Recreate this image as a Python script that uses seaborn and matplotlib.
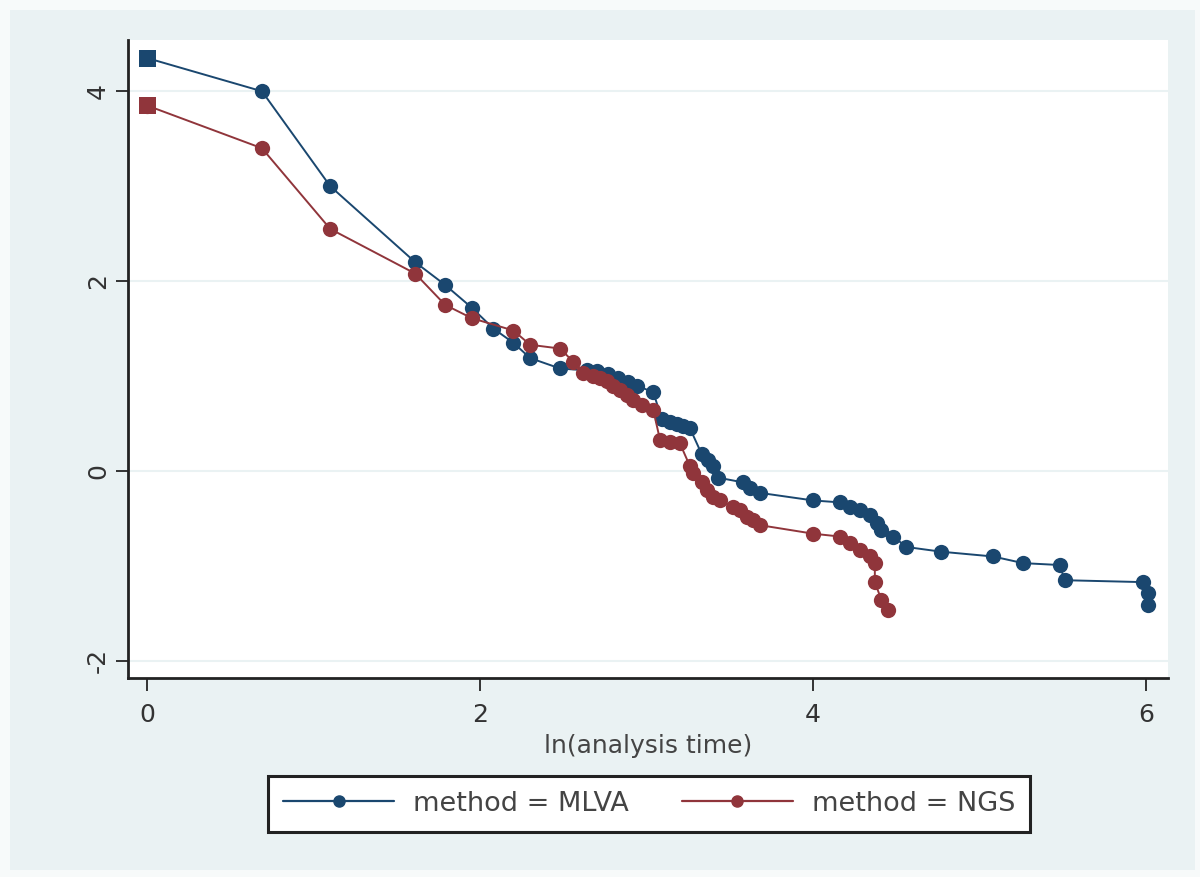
import numpy as np
import pandas as pd
import matplotlib
matplotlib.use("Agg")
import matplotlib.pyplot as plt
from matplotlib.patches import Rectangle
import seaborn as sns

# ln(analysis time) vs -ln(-ln(survival)) per method
mlva_x = [0.00, 0.69, 1.10, 1.61, 1.79, 1.95, 2.08, 2.20, 2.30, 2.48, 2.64, 2.70, 2.77, 2.83,
          2.89, 2.94, 3.04, 3.09, 3.14, 3.18, 3.22, 3.26, 3.33, 3.37, 3.40, 3.43, 3.58, 3.62,
          3.68, 4.00, 4.16, 4.22, 4.28, 4.34, 4.38, 4.41, 4.48, 4.56, 4.77, 5.08, 5.26, 5.48,
          5.51, 5.98, 6.01, 6.01]
mlva_y = [4.35, 4.00, 3.00, 2.20, 1.96, 1.72, 1.50, 1.35, 1.19, 1.08, 1.06, 1.05, 1.02, 0.98,
          0.94, 0.90, 0.83, 0.55, 0.52, 0.50, 0.47, 0.45, 0.18, 0.12, 0.05, -0.07, -0.12, -0.18,
          -0.23, -0.31, -0.33, -0.38, -0.41, -0.46, -0.55, -0.62, -0.69, -0.80, -0.85, -0.90,
          -0.97, -0.99, -1.15, -1.17, -1.28, -1.41]

ngs_x = [0.00, 0.69, 1.10, 1.61, 1.79, 1.95, 2.20, 2.30, 2.48, 2.56, 2.62, 2.68, 2.72, 2.76,
         2.80, 2.84, 2.88, 2.92, 2.97, 3.04, 3.08, 3.14, 3.20, 3.26, 3.28, 3.33, 3.36, 3.40,
         3.44, 3.52, 3.56, 3.60, 3.64, 3.68, 4.00, 4.16, 4.22, 4.28, 4.34, 4.37, 4.37, 4.41, 4.45]
ngs_y = [3.85, 3.40, 2.55, 2.08, 1.75, 1.61, 1.48, 1.33, 1.29, 1.15, 1.03, 1.00, 0.98, 0.95,
         0.90, 0.85, 0.80, 0.75, 0.70, 0.64, 0.33, 0.31, 0.29, 0.05, -0.02, -0.12, -0.20, -0.27,
         -0.31, -0.38, -0.41, -0.48, -0.52, -0.57, -0.66, -0.69, -0.76, -0.83, -0.90, -0.97,
         -1.17, -1.36, -1.46]

labels = ['method = MLVA', 'method = NGS']
colors = ['#1a476f', '#90353b']
x_ticks = [0, 2, 4, 6]
y_ticks = [-2, 0, 2, 4]

df = pd.concat([
    pd.DataFrame({'x': mlva_x, 'y': mlva_y, 'method': labels[0]}),
    pd.DataFrame({'x': ngs_x, 'y': ngs_y, 'method': labels[1]}),
], ignore_index=True)

sns.set_theme(style='white')
plt.rcParams['font.family'] = ['DejaVu Sans']

bg = '#eaf2f3'
fig = plt.figure(figsize=(12, 8.77), dpi=100, facecolor='#f7fafa')
# stata-like outer graph region, kept behind the axes
fig.patches.append(Rectangle((0.008, 0.008), 0.988, 0.981, transform=fig.transFigure,
                             facecolor=bg, edgecolor='none', zorder=-10))

ax = fig.add_axes([0.1067, 0.2269, 0.8666, 0.7275])
ax.set_facecolor('white')

for yv in y_ticks:
    ax.axhline(yv, color='#eaf2f3', lw=1.5, zorder=0)

sns.lineplot(data=df, x='x', y='y', hue='method', palette=colors, sort=False,
             estimator=None, marker='o', markersize=11, markeredgewidth=0,
             linewidth=1.4, ax=ax, legend=False)

# first point of each curve is drawn as a square
first = df.groupby('method', sort=False).head(1)
sns.scatterplot(data=first, x='x', y='y', hue='method', palette=colors, marker='s',
                s=150, linewidth=0, ax=ax, legend=False, zorder=5)

ax.set_xlim(-0.114, 6.13)
ax.set_ylim(-2.18, 4.54)
ax.set_xticks(x_ticks)
ax.set_yticks(y_ticks)
ax.set_yticklabels([str(v) for v in y_ticks], rotation=90, va='center')
ax.tick_params(axis='both', direction='out', length=9, width=1.4, color='#333333',
               labelsize=18, labelcolor='#333333', pad=4, left=True, bottom=True)
ax.tick_params(axis='x', pad=9)
ax.set_xlabel('ln(analysis time)', fontsize=18, color='#444444', labelpad=5)
ax.set_ylabel('')

for side in ['top', 'right']:
    ax.spines[side].set_visible(False)
for side in ['left', 'bottom']:
    ax.spines[side].set_color('#222222')
    ax.spines[side].set_linewidth(2)

handles = [plt.Line2D([], [], color=c, marker='o', markersize=8, lw=1.6) for c in colors]
leg = fig.legend(handles, labels, loc='center', bbox_to_anchor=(0.541, 0.0833), ncol=2,
                 fontsize=19.5, frameon=True, fancybox=False, framealpha=1,
                 handlelength=4.1, handletextpad=0.7, columnspacing=1.95,
                 borderpad=0.55, borderaxespad=0)
for t in leg.get_texts():
    t.set_color('#444444')
leg.get_frame().set_edgecolor('#222222')
leg.get_frame().set_linewidth(2.2)
leg.get_frame().set_facecolor('white')

fig.savefig('out.png', dpi=100, facecolor=fig.get_facecolor())
